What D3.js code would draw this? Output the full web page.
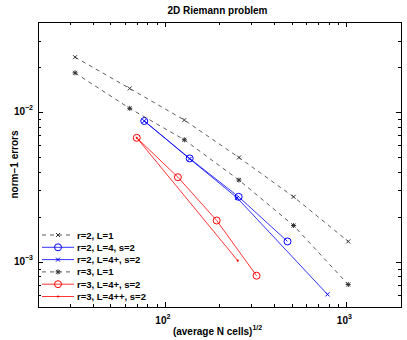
<!DOCTYPE html>
<html>
<head>
<meta charset="utf-8">
<script src="https://cdn.jsdelivr.net/npm/d3@7"></script>
<style>
body{margin:0;background:#fff;}
text{font-family:"Liberation Sans",Arial,sans-serif;}
</style>
</head>
<body>
<svg id="chart" width="407" height="340"></svg>
<script>
// data
var xDomain = [20, 2000];
var yDomain = [5e-4, 4e-2];
var xTicks = [100, 1000];
var yTicks = [1e-3, 1e-2];

var r2L1 = [[32, 0.0233], [64, 0.0144], [128, 0.00886], [256, 0.00498], [512, 0.00272], [1024, 0.00137]];
var r2L4 = [[77, 0.00873], [137, 0.00491], [255, 0.00272], [474, 0.00137]];
var r2L4p = [[77, 0.00873], [137, 0.00488], [250, 0.00268], [787, 0.000607]];
var r3L1 = [[32, 0.0183], [64, 0.0106], [128, 0.00654], [256, 0.00352], [512, 0.00175], [1024, 0.000706]];
var r3L4p = [[70, 0.00674], [118, 0.00368], [193, 0.00189], [320, 0.000809]];
var r3L4pp = [[70, 0.00674], [252, 0.00102]];

var seriesNames = ["r=2, L=1", "r=2, L=4, s=2", "r=2, L=4+, s=2", "r=3, L=1", "r=3, L=4+, s=2", "r=3, L=4++, s=2"];

var series = [
	{name: seriesNames[0], data: r2L1, color: "#333", dash: "4,4", marker: "x"},
	{name: seriesNames[1], data: r2L4, color: "#0000ff", dash: null, marker: "o"},
	{name: seriesNames[2], data: r2L4p, color: "#0000ff", dash: null, marker: "x"},
	{name: seriesNames[3], data: r3L1, color: "#333", dash: "4,4", marker: "*"},
	{name: seriesNames[4], data: r3L4p, color: "#ff0000", dash: null, marker: "o"},
	{name: seriesNames[5], data: r3L4pp, color: "#ff0000", dash: null, marker: "."}
];

var mg = {top: 22, right: 6, bottom: 33, left: 38};
var svg = d3.select("#chart");
var W = 407, H = 340;
var w = W - mg.left - mg.right, h = H - mg.top - mg.bottom;
var g = svg.append("g").attr("transform", "translate(" + mg.left + "," + mg.top + ")");

var x = d3.scaleLog().domain(xDomain).range([0, w]);
var y = d3.scaleLog().domain(yDomain).range([h, 0]);

// minor ticks: 2..9 times each decade
function minors(dom){
	var out = [];
	for(var e = -5; e <= 5; e++){
		for(var k = 2; k <= 9; k++){
			var v = k * Math.pow(10, e);
			if(v > dom[0] && v < dom[1]) out.push(v);
		}
	}
	return out;
}

function sup(sel, base, exp){
	sel.append("tspan").text(base);
	sel.append("tspan").attr("dy", -5).attr("font-size", 7).text(exp);
}

// ticks on all four sides, pointing inward
var tk = g.append("g").attr("stroke", "#000").attr("stroke-width", 1);
minors(xDomain).forEach(function(v){
	var px = Math.round(x(v)) + 0.5;
	tk.append("line").attr("x1", px).attr("x2", px).attr("y1", h).attr("y2", h - 3);
	tk.append("line").attr("x1", px).attr("x2", px).attr("y1", 0).attr("y2", 3);
});
xTicks.forEach(function(v){
	var px = Math.round(x(v)) + 0.5;
	tk.append("line").attr("x1", px).attr("x2", px).attr("y1", h).attr("y2", h - 5);
	tk.append("line").attr("x1", px).attr("x2", px).attr("y1", 0).attr("y2", 5);
});
minors(yDomain).forEach(function(v){
	var py = Math.round(y(v)) + 0.5;
	tk.append("line").attr("x1", 0).attr("x2", 3).attr("y1", py).attr("y2", py);
	tk.append("line").attr("x1", w).attr("x2", w - 3).attr("y1", py).attr("y2", py);
});
yTicks.forEach(function(v){
	var py = Math.round(y(v)) + 0.5;
	tk.append("line").attr("x1", 0).attr("x2", 5).attr("y1", py).attr("y2", py);
	tk.append("line").attr("x1", w).attr("x2", w - 5).attr("y1", py).attr("y2", py);
});

g.append("rect").attr("x", 0.5).attr("y", 0.5).attr("width", w).attr("height", h)
	.attr("fill", "none").attr("stroke", "#000").attr("stroke-width", 1);

// tick labels
xTicks.forEach(function(v){
	var t = g.append("text").attr("x", x(v) - 2).attr("y", h + 17)
		.attr("text-anchor", "middle").attr("font-size", 10).attr("font-weight", "bold");
	sup(t, "10", Math.round(Math.log10(v)));
});
yTicks.forEach(function(v){
	var t = g.append("text").attr("x", -5).attr("y", y(v) + 3)
		.attr("text-anchor", "end").attr("font-size", 10).attr("font-weight", "bold");
	sup(t, "10", "\u2212" + Math.round(-Math.log10(v)));
});

// lines + markers
var line = d3.line().x(function(d){ return x(d[0]); }).y(function(d){ return y(d[1]); });

function drawMarker(sel, type, cx, cy, color){
	if(type === "o"){
		sel.append("circle").attr("cx", cx).attr("cy", cy).attr("r", 3.5)
			.attr("fill", "none").attr("stroke", color).attr("stroke-width", 1);
	} else if(type === "x" || type === "*"){
		var s = 2;
		sel.append("path").attr("d", "M" + (cx - s) + "," + (cy - s) + "L" + (cx + s) + "," + (cy + s) +
			"M" + (cx - s) + "," + (cy + s) + "L" + (cx + s) + "," + (cy - s))
			.attr("stroke", color).attr("stroke-width", 1);
		if(type === "*"){
			sel.append("path").attr("d", "M" + (cx - 2.5) + "," + cy + "L" + (cx + 2.5) + "," + cy +
				"M" + cx + "," + (cy - 2.5) + "L" + cx + "," + (cy + 2.5))
				.attr("stroke", color).attr("stroke-width", 1);
		}
	} else if(type === "."){
		sel.append("circle").attr("cx", cx).attr("cy", cy).attr("r", 1.1).attr("fill", color);
	}
}

var plot = g.append("g");
series.forEach(function(s){
	plot.append("path").datum(s.data).attr("d", line)
		.attr("fill", "none").attr("stroke", s.color).attr("stroke-width", 0.8)
		.attr("stroke-dasharray", s.dash);
	s.data.forEach(function(d){
		drawMarker(plot, s.marker, x(d[0]), y(d[1]), s.color);
	});
});

// legend
var lg = g.append("g").attr("transform", "translate(2," + (h - 72) + ")");
series.forEach(function(s, i){
	var yy = i * 12.3;
	lg.append("line").attr("x1", 2).attr("x2", 34).attr("y1", yy).attr("y2", yy)
		.attr("stroke", s.color).attr("stroke-width", 0.8).attr("stroke-dasharray", s.dash);
	drawMarker(lg, s.marker, 18, yy, s.color);
	lg.append("text").attr("x", 37).attr("y", yy + 3.5).attr("font-size", 9.5)
		.attr("font-weight", "bold").text(s.name);
});

// titles
svg.append("text").attr("x", mg.left + w / 2 - 2).attr("y", 14).attr("text-anchor", "middle")
	.attr("font-size", 10).attr("font-weight", "bold").text("2D Riemann problem");
var xl = svg.append("text").attr("x", mg.left + w / 2 - 2).attr("y", 335).attr("text-anchor", "middle")
	.attr("font-size", 10).attr("font-weight", "bold");
xl.append("tspan").text("(average N cells)");
xl.append("tspan").attr("dy", -5).attr("font-size", 7).text("1/2");
svg.append("text").attr("transform", "translate(18," + (mg.top + h / 2) + ") rotate(-90)")
	.attr("text-anchor", "middle").attr("font-size", 10).attr("font-weight", "bold").text("norm\u22121 errors");
</script>
</body>
</html>
